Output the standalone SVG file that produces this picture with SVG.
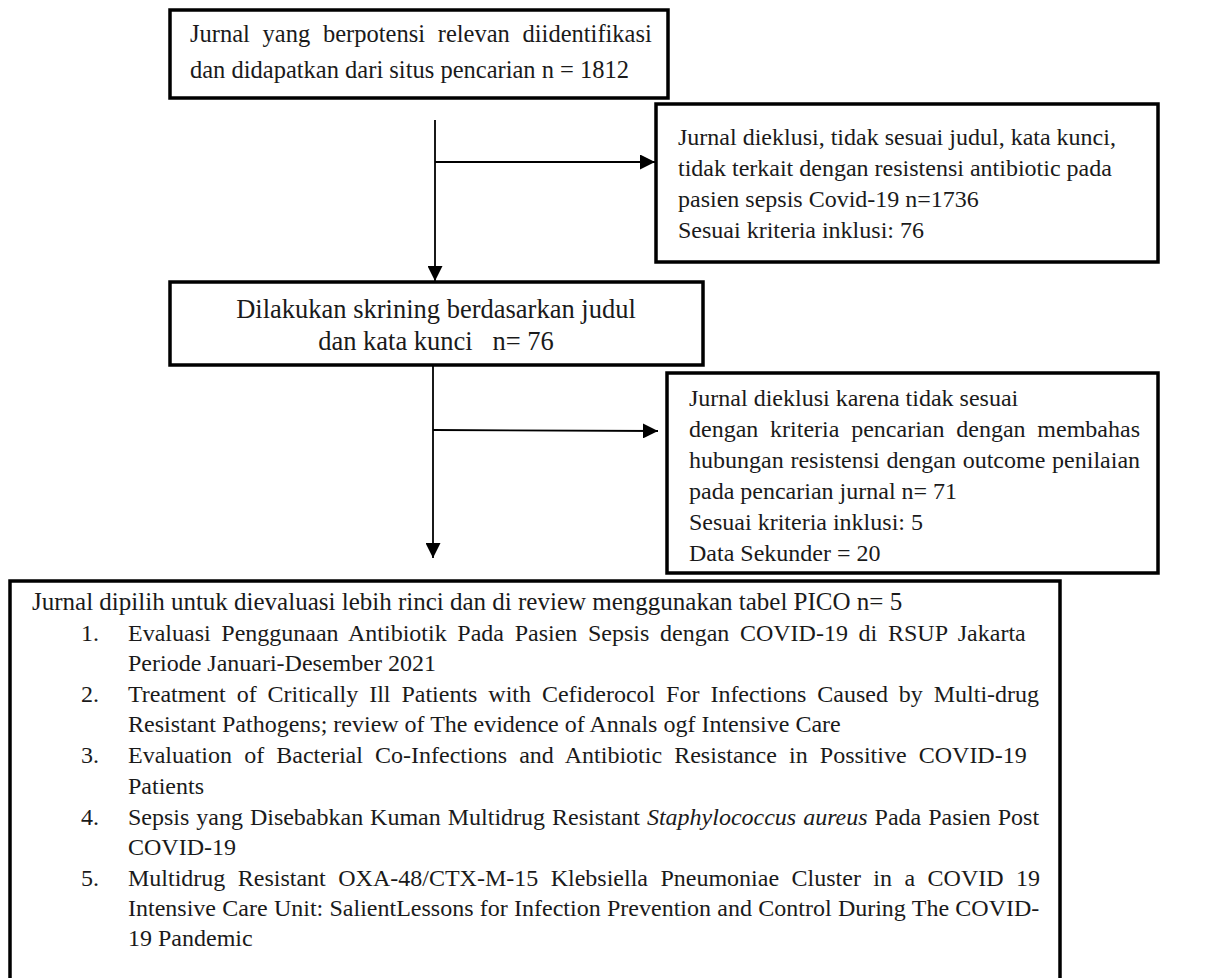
<svg xmlns="http://www.w3.org/2000/svg" width="1210" height="978" viewBox="0 0 1210 978">
<defs>
<style>
.box{fill:#fff;stroke:#000;stroke-width:3.5}
.t{font-family:"Liberation Serif","Times New Roman",serif;font-size:24px;fill:#1a1a1a;white-space:pre}
.c{stroke:#000;stroke-width:1.8;fill:none}
</style>
<marker id="ah" markerUnits="userSpaceOnUse" markerWidth="15" markerHeight="15" refX="15" refY="7.5" orient="auto">
<path d="M0,0 L15,7.5 L0,15 z" fill="#000"/>
</marker>
</defs>
<rect width="1210" height="978" fill="#fff"/>
<g id="connectors">
<line class="c" x1="435" y1="120" x2="435" y2="281" marker-end="url(#ah)"/>
<line class="c" x1="435" y1="162" x2="655" y2="162" marker-end="url(#ah)"/>
<line class="c" x1="433" y1="365" x2="433" y2="558" marker-end="url(#ah)"/>
<line class="c" x1="433" y1="430" x2="658" y2="431" marker-end="url(#ah)"/>
</g>
<g id="n1">
<rect class="box" x="170" y="10" width="498" height="88"/>
<text class="t" style="font-size:24.5px;word-spacing:6.6px" x="190" y="42">Jurnal yang berpotensi relevan diidentifikasi</text>
<text class="t" style="font-size:24.5px" x="190" y="78">dan didapatkan dari situs pencarian n = 1812</text>
</g>
<g id="n2">
<rect class="box" x="656" y="104" width="502" height="158"/>
<text class="t" x="678" y="145">Jurnal dieklusi, tidak sesuai judul, kata kunci,</text>
<text class="t" x="678" y="176">tidak terkait dengan resistensi antibiotic pada</text>
<text class="t" x="678" y="207">pasien sepsis Covid-19 n=1736</text>
<text class="t" x="678" y="238">Sesuai kriteria inklusi: 76</text>
</g>
<g id="n3">
<rect class="box" x="170" y="282" width="533" height="83"/>
<text class="t" style="font-size:26.5px" x="436" y="318" text-anchor="middle">Dilakukan skrining berdasarkan judul</text>
<text class="t" style="font-size:26.5px" x="436" y="350" text-anchor="middle" xml:space="preserve">dan kata kunci   n= 76</text>
</g>
<g id="n4">
<rect class="box" x="667" y="373" width="491" height="200"/>
<text class="t" x="689" y="406">Jurnal dieklusi karena tidak sesuai</text>
<text class="t" style="word-spacing:5.8px" x="689" y="437">dengan kriteria pencarian dengan membahas</text>
<text class="t" style="word-spacing:0.8px" x="689" y="468">hubungan resistensi dengan outcome penilaian</text>
<text class="t" x="689" y="499">pada pencarian jurnal n= 71</text>
<text class="t" x="689" y="530">Sesuai kriteria inklusi: 5</text>
<text class="t" x="689" y="561">Data Sekunder = 20</text>
</g>
<g id="n5">
<rect class="box" x="10" y="581" width="1050" height="420"/>
<text class="t" style="font-size:25px" x="32" y="610">Jurnal dipilih untuk dievaluasi lebih rinci dan di review menggunakan tabel PICO n= 5</text>
<text class="t" x="81" y="641">1.</text>
<text class="t" style="word-spacing:4.67px" x="128" y="641">Evaluasi Penggunaan Antibiotik Pada Pasien Sepsis dengan COVID-19 di RSUP Jakarta</text>
<text class="t" x="128" y="671">Periode Januari-Desember 2021</text>
<text class="t" x="81" y="702">2.</text>
<text class="t" style="word-spacing:4.92px" x="128" y="702">Treatment of Critically Ill Patients with Cefiderocol For Infections Caused by Multi-drug</text>
<text class="t" x="128" y="732">Resistant Pathogens; review of The evidence of Annals ogf Intensive Care</text>
<text class="t" x="81" y="763">3.</text>
<text class="t" style="word-spacing:6.17px" x="128" y="763">Evaluation of Bacterial Co-Infections and Antibiotic Resistance in Possitive COVID-19</text>
<text class="t" x="128" y="794">Patients</text>
<text class="t" x="81" y="825">4.</text>
<text class="t" style="word-spacing:0.94px" x="128" y="825">Sepsis yang Disebabkan Kuman Multidrug Resistant <tspan font-style="italic">Staphylococcus aureus</tspan> Pada Pasien Post</text>
<text class="t" x="128" y="855">COVID-19</text>
<text class="t" x="81" y="886">5.</text>
<text class="t" style="word-spacing:6.46px" x="128" y="886">Multidrug Resistant OXA-48/CTX-M-15 Klebsiella Pneumoniae Cluster in a COVID 19</text>
<text class="t" style="word-spacing:0.3px" x="128" y="916">Intensive Care Unit: SalientLessons for Infection Prevention and Control During The COVID-</text>
<text class="t" x="128" y="946">19 Pandemic</text>
</g>
</svg>
